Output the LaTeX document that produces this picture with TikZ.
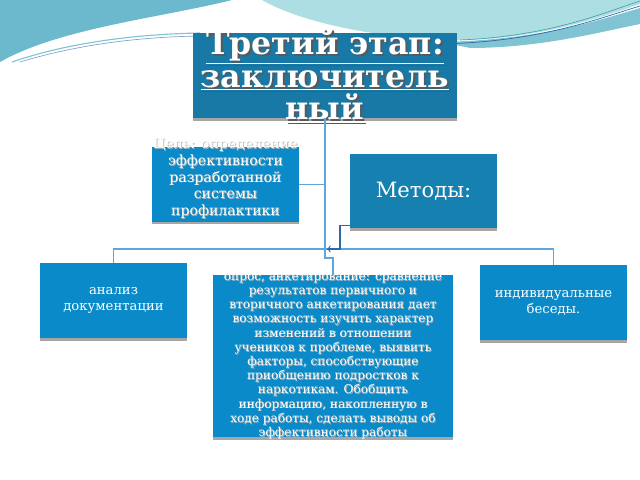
\documentclass[tikz,border=0pt]{standalone}
\usepackage{fontspec}
\setmainfont{DejaVu Serif}
\usetikzlibrary{positioning,shadows,calc}
\definecolor{titleblue}{RGB}{24,121,166}
\definecolor{methodblue}{RGB}{22,128,176}
\definecolor{boxblue}{RGB}{10,138,200}
\definecolor{linkblue}{RGB}{95,165,222}
\definecolor{darklink}{RGB}{45,105,170}
\definecolor{tealdark}{RGB}{108,184,204}
\definecolor{teallight}{RGB}{172,222,228}
\definecolor{tealmid}{RGB}{128,196,212}
\tikzset{
	%
	box/.style={
		rectangle, inner sep=0pt, fill=boxblue, text=white, align=center,
		font=\fontsize{9.4}{11.5}\selectfont,
		general shadow={fill=black!35, shadow yshift=-2pt}
	},
	%
	txtshadow/.style={
		inner sep=0pt, align=center, text=black!30
	},
	%
	link/.style={
		draw=linkblue, line width=1.1pt
	}
}
\begin{document}
\begin{tikzpicture}[x=0.025cm,y=-0.025cm]
\useasboundingbox (0,0) rectangle (640,480);

%background
\fill[tealdark] (0,0) -- (232,0) .. controls (160,18) and (60,28) .. (0,62) -- cycle;
\draw[tealmid, line width=0.8pt] (12,62) .. controls (70,42) and (140,34) .. (200,33);
\draw[darklink!60, line width=0.5pt] (20,62) .. controls (80,44) and (140,37) .. (200,36);
\fill[teallight] (262,0) -- (640,0) -- (640,4) .. controls (600,18) and (540,38) .. (465,40) .. controls (380,40) and (300,22) .. cycle;
\fill[tealmid] (440,42) .. controls (540,40) and (600,20) .. (640,8) -- (640,24) .. controls (600,32) and (540,48) .. (470,48) -- cycle;
\draw[darklink, line width=0.5pt] (440,44) .. controls (540,42) and (600,18) .. (640,6);
\draw[teal!70, line width=0.5pt] (460,40) .. controls (550,36) and (600,14) .. (640,1);

%boxes
\node (title) [box, fill=titleblue, minimum width=6.6cm, minimum height=2.125cm] at (325,75.5) {};
\node (titleshadow) [txtshadow, text=black!65, font=\fontsize{22.5}{23.2}\bfseries] at (327,77.5) {\underline{Третий этап:}\\\underline{заключитель}\\\underline{ный}};
\node (titletext) [txtshadow, text=white, font=\fontsize{22.5}{23.2}\bfseries] at (325,75.5) {\underline{Третий этап:}\\\underline{заключитель}\\\underline{ный}};

\node (goal) [box, minimum width=3.65cm, minimum height=1.85cm] at (225.5,184.5) {};
\node (goalshadow) [txtshadow, font=\fontsize{10}{11.9}\selectfont] at (226.3,179.3) {Цель: определение\\эффективности\\разработанной\\системы\\профилактики};
\node (goaltext) [txtshadow, text=white, font=\fontsize{10}{11.9}\selectfont] at (225.5,178.5) {Цель: определение\\эффективности\\разработанной\\системы\\профилактики};

\node (methods) [box, fill=methodblue, minimum width=3.675cm, minimum height=1.85cm, font=\fontsize{15}{17}\selectfont] at (423.5,191) {Методы:};

\node (docs) [box, minimum width=3.675cm, minimum height=1.875cm] at (113.5,300.5) {анализ\\документации};
\node (talks) [box, minimum width=3.675cm, minimum height=1.875cm] at (553.5,302.5) {индивидуальные\\беседы.};

\node (survey) [box, minimum width=6cm, minimum height=4.05cm] at (333,356) {};
\node (surveyshadow) [txtshadow, font=\fontsize{8.6}{10.1}\selectfont] at (333.8,357.3) {опрос, анкетирование: сравнение\\результатов первичного и\\вторичного анкетирования дает\\возможность изучить характер\\изменений в отношении\\учеников к проблеме, выявить\\факторы, способствующие\\приобщению подростков к\\наркотикам. Обобщить\\информацию, накопленную в\\ходе работы, сделать выводы об\\эффективности работы};
\node (surveytext) [txtshadow, text=white, font=\fontsize{8.6}{10.1}\selectfont] at (333,356.5) {опрос, анкетирование: сравнение\\результатов первичного и\\вторичного анкетирования дает\\возможность изучить характер\\изменений в отношении\\учеников к проблеме, выявить\\факторы, способствующие\\приобщению подростков к\\наркотикам. Обобщить\\информацию, накопленную в\\ходе работы, сделать выводы об\\эффективности работы};

%links
\coordinate (hub) at (325,249);
\coordinate (mbend) at (340,249);
\draw[link] (title.south -| hub) -- (hub);
\draw[link] (goal.east) -- (goal.east -| hub);
\draw[link] (docs.north) |- (hub) -| (talks.north);
\draw[link] (hub) -- ++(0,9) -| (survey.north);
\draw[->, darklink, line width=0.8pt] ($(methods.south west)+(0,-3)$) -| (mbend) -- ($(hub)+(2,0)$);

\end{tikzpicture}
\end{document}
